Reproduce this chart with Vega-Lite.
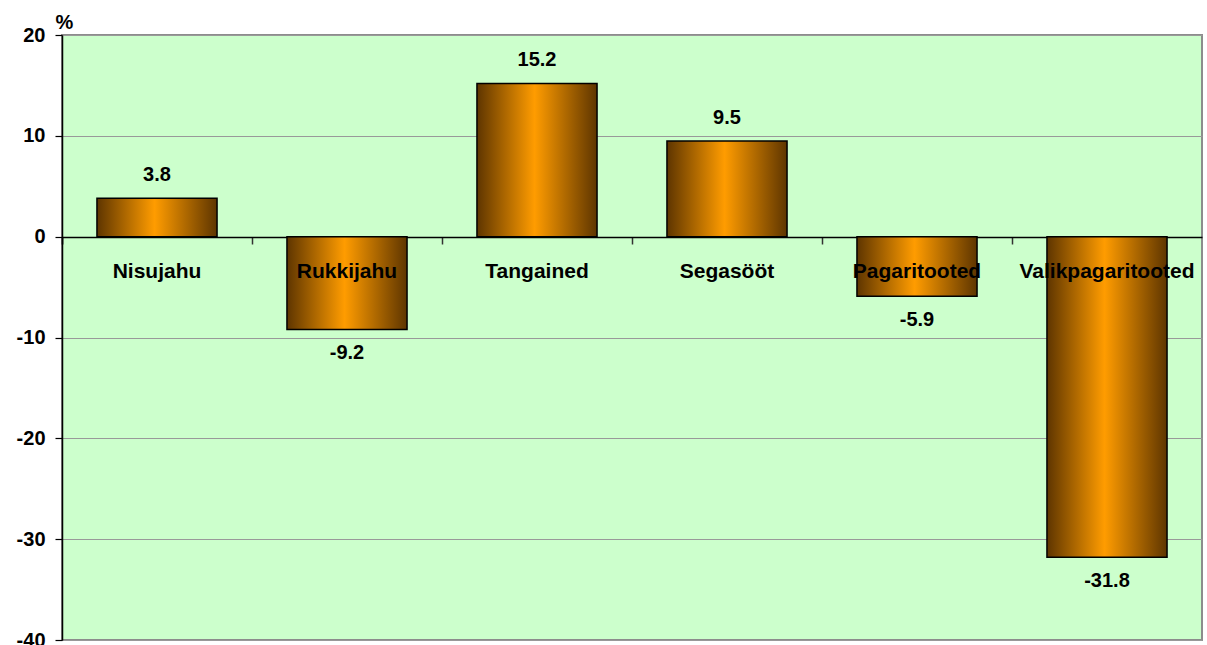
{
  "$schema": "https://vega.github.io/schema/vega-lite/v6.json",
  "width": 1140,
  "height": 605,
  "autosize": {"type": "none"},
  "padding": {"left": 62, "top": 35, "right": 5, "bottom": 5},
  "background": "white",
  "config": {
    "font": "Liberation Sans",
    "locale": {"number": {"decimal": ".", "thousands": ",", "grouping": [3], "currency": ["", ""], "minus": "-"}},
    "view": {"fill": "#ccffcc", "stroke": "#8c8c8c", "strokeWidth": 2}
  },
  "data": {
    "values": [
      {"cat": "Nisujahu", "value": 3.8},
      {"cat": "Rukkijahu", "value": -9.2},
      {"cat": "Tangained", "value": 15.2},
      {"cat": "Segasööt", "value": 9.5},
      {"cat": "Pagaritooted", "value": -5.9},
      {"cat": "Valikpagaritooted", "value": -31.8}
    ]
  },
  "encoding": {
    "x": {
      "field": "cat",
      "type": "nominal",
      "sort": null,
      "scale": {"paddingInner": 0.368, "paddingOuter": 0.184},
      "axis": {
        "orient": "bottom",
        "offset": -403,
        "title": null,
        "labels": false,
        "domain": true,
        "domainColor": "#000000",
        "domainWidth": 1.5,
        "ticks": true,
        "bandPosition": 0,
        "tickOffset": -35,
        "tickExtra": true,
        "tickColor": "#333333",
        "tickSize": 7,
        "tickWidth": 1.5,
        "grid": false
      }
    }
  },
  "layer": [
    {
      "mark": {
        "type": "bar",
        "stroke": "#000000",
        "strokeWidth": 1.5,
        "fill": {
          "gradient": "linear",
          "x1": 0, "y1": 0, "x2": 1, "y2": 0,
          "stops": [
            {"offset": 0, "color": "#5e3500"},
            {"offset": 0.48, "color": "#ff9c00"},
            {"offset": 1, "color": "#5e3500"}
          ]
        }
      },
      "encoding": {
        "y": {
          "field": "value",
          "type": "quantitative",
          "scale": {"domain": [-40, 20], "nice": false, "zero": false},
          "axis": {
            "values": [-40, -30, -20, -10, 0, 10, 20],
            "title": "%",
            "titleAngle": 0,
            "titleX": -7,
            "titleY": -7,
            "titleAlign": "left",
            "titleBaseline": "alphabetic",
            "titleFontSize": 20,
            "titleFontWeight": "bold",
            "titleColor": "#000000",
            "labelFontSize": 20,
            "labelFontWeight": "bold",
            "labelColor": "#000000",
            "labelPadding": 10,
            "labelFlush": false,
            "labelOverlap": false,
            "domainColor": "#000000",
            "domainWidth": 1.5,
            "tickColor": "#000000",
            "tickSize": 7,
            "tickWidth": 1.2,
            "grid": true,
            "gridColor": "#999999",
            "gridWidth": 1
          }
        }
      }
    },
    {
      "mark": {"type": "text", "fontSize": 21, "fontWeight": "bold", "color": "#000000", "baseline": "alphabetic", "dy": 41},
      "encoding": {
        "y": {"datum": 0, "type": "quantitative"},
        "text": {"field": "cat"}
      }
    },
    {
      "transform": [{"filter": "datum.value >= 0"}],
      "mark": {"type": "text", "fontSize": 20, "fontWeight": "bold", "color": "#000000", "baseline": "alphabetic", "dy": -17},
      "encoding": {
        "y": {"field": "value", "type": "quantitative"},
        "text": {"field": "value", "format": ".1f"}
      }
    },
    {
      "transform": [{"filter": "datum.value < 0"}],
      "mark": {"type": "text", "fontSize": 20, "fontWeight": "bold", "color": "#000000", "baseline": "alphabetic", "dy": 30},
      "encoding": {
        "y": {"field": "value", "type": "quantitative"},
        "text": {"field": "value", "format": ".1f"}
      }
    }
  ]
}
